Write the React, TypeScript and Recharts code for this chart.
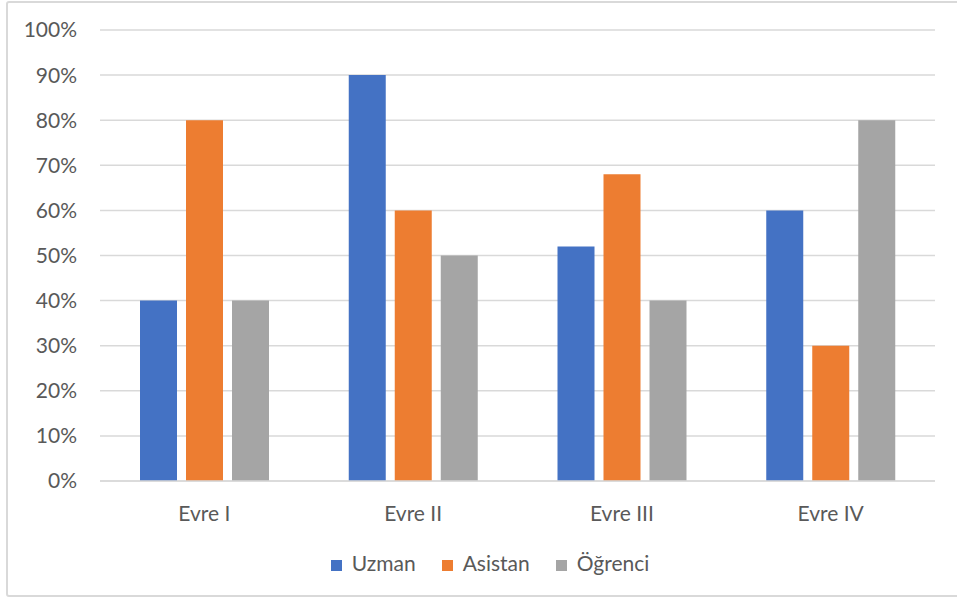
import { Bar, BarChart, CartesianGrid, Legend, XAxis, YAxis } from "recharts"

const phases = ["Evre I", "Evre II", "Evre III", "Evre IV"]
const uzman = [40, 90, 52, 60]
const asistan = [80, 60, 68, 30]
const ogrenci = [40, 50, 40, 80]
const yTicks = [0, 10, 20, 30, 40, 50, 60, 70, 80, 90, 100]
const seriesOrder = ["Uzman", "Asistan", "Öğrenci"]

const data = phases.map((name, i) => ({
  name,
  Uzman: uzman[i],
  Asistan: asistan[i],
  "Öğrenci": ogrenci[i],
}))

const font = "Lato, 'Open Sans', sans-serif"
const textColor = "#595959"
const lineColor = "#d9d9d9"

export default function App() {
  return (
    <div style={{ position: "absolute", left: 0, top: 0, width: 957, height: 605, background: "#fff" }}>
      <div
        style={{
          position: "absolute",
          left: 6,
          top: 1,
          width: 960,
          height: 596,
          border: `2px solid ${lineColor}`,
          borderRadius: 3,
          boxSizing: "border-box",
        }}
      />
      <div style={{ position: "absolute", left: 0, top: 0 }}>
        <BarChart
          width={957}
          height={605}
          data={data}
          margin={{ top: 30, right: 22, bottom: 30, left: 0 }}
          barSize={37}
          barGap={9}
          style={{ fontFamily: font }}
        >
          <CartesianGrid vertical={false} stroke={lineColor} strokeWidth={1.5} />
          <XAxis
            dataKey="name"
            axisLine={{ stroke: lineColor, strokeWidth: 1.5 }}
            tickLine={false}
            tick={{ fill: textColor, fontSize: 21 }}
            tickMargin={19}
            height={69}
          />
          <YAxis
            domain={[0, 100]}
            ticks={yTicks}
            tickFormatter={(v) => `${v}%`}
            axisLine={false}
            tickLine={false}
            tickSize={0}
            tickMargin={23}
            width={100}
            tick={{ fill: textColor, fontSize: 21 }}
            interval={0}
          />
          <Legend
            verticalAlign="bottom"
            iconType="square"
            iconSize={11}
            itemSorter={(item: any) => seriesOrder.indexOf(String(item.value))}
            wrapperStyle={{ fontSize: 21, color: textColor, paddingLeft: 71, boxSizing: "border-box" }}
            formatter={(value) => (
              <span style={{ color: textColor, paddingLeft: 6, paddingRight: 16 }}>{value}</span>
            )}
          />
          <Bar dataKey="Uzman" fill="#4472C4" isAnimationActive={false} />
          <Bar dataKey="Asistan" fill="#ED7D31" isAnimationActive={false} />
          <Bar dataKey="Öğrenci" fill="#A5A5A5" isAnimationActive={false} />
        </BarChart>
      </div>
    </div>
  )
}
